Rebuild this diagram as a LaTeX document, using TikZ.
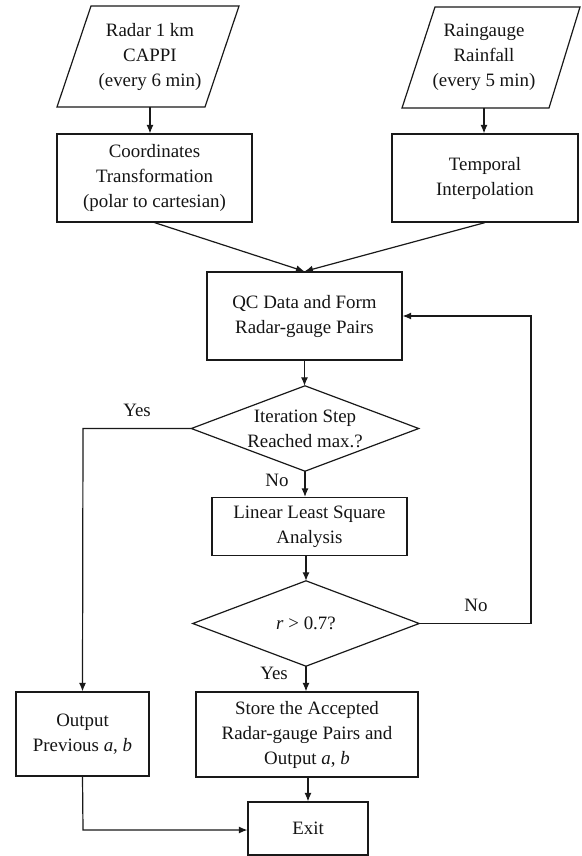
\documentclass[tikz,border=0pt]{standalone}
\usepackage{fontspec}
\setmainfont{Liberation Serif}
\usetikzlibrary{arrows.meta}
\begin{document}
\begin{tikzpicture}[x=1pt,y=-1pt,
  every node/.style={font=\fontsize{18.9}{25}\selectfont, align=center, inner sep=0pt, text=black!92},
  box/.style={draw=black!90, line width=1.2pt, minimum width=#1},
  hidden/.style={draw=none},
  lbl/.style={draw=none},
  conn/.style={draw=black!90, line width=1.2pt, -{Latex[length=8.5pt,width=7pt]}},
  shapeline/.style={draw=black!90, line width=1.2pt, line join=miter}]
\useasboundingbox (0,0) rectangle (581,856);

% input parallelograms
\node[hidden, minimum width=100pt, minimum height=101pt] (p1) at (150,56.5) {Radar 1 km\\CAPPI\\(every 6 min)};
\draw[shapeline] (91,6) -- (239,6) -- (205,107) -- (57,107) -- cycle;
\node[hidden, minimum width=100pt, minimum height=101pt] (p2) at (484,57.5) {Raingauge\\Rainfall\\(every 5 min)};
\draw[shapeline] (435,7) -- (580,7) -- (549,108) -- (402,108) -- cycle;

% process boxes
\node[box=195pt, minimum height=88pt] (b1) at (154.5,178) {Coordinates\\Transformation\\(polar to cartesian)};
\node[box=186pt, minimum height=88pt] (b2) at (485,178) {Temporal\\Interpolation};
\node[box=195pt, minimum height=88pt] (qc) at (304.5,316) {QC Data and Form\\Radar-gauge Pairs};

% decision 1
\node[hidden, minimum width=227pt, minimum height=85pt] (d1) at (305,428.5) {Iteration Step\\Reached max.?};
\draw[shapeline] (d1.north) -- (d1.east) -- (d1.south) -- (d1.west) -- cycle;

\node[box=195pt, minimum height=58pt] (lls) at (309.5,526.5) {Linear Least Square\\Analysis};

% decision 2
\node[hidden, minimum width=226pt, minimum height=85pt] (d2) at (306,623.5) {\textit{r} > 0.7?};
\draw[shapeline] (d2.north) -- (d2.east) -- (d2.south) -- (d2.west) -- cycle;

\node[box=222pt, minimum height=85pt] (store) at (307,734.5) {Store the Accepted\\Radar-gauge Pairs and\\Output \textit{a}, \textit{b}};
\node[box=133pt, minimum height=84pt] (out) at (82.5,734) {Output\\Previous \textit{a}, \textit{b}};
\node[box=120pt, minimum height=53pt] (exit) at (308,828.5) {Exit};

% labels
\node[lbl] (yes1) at (137,410) {Yes};
\node[lbl] (no1) at (277,480) {No};
\node[lbl] (no2) at (476,605) {No};
\node[lbl] (yes2) at (274,673) {Yes};

% helper coordinates
\coordinate (lcorner) at (83,428.5);
\coordinate (bcorner) at (83,830);
\coordinate (rbot) at (531,623.5);
\coordinate (rtop) at (531,316);

% connectors
\draw[conn] (p1.south) -- (p1.south |- b1.north);
\draw[conn] (p2.south) -- (p2.south |- b2.north);
\draw[conn] (b1.south) -- (qc.north);
\draw[conn] (b2.south) -- (qc.north);
\draw[conn] (qc.south) -- (qc.south |- d1.north);
\draw[conn] (d1.south) -- (d1.south |- lls.north);
\draw[conn] (d2.north |- lls.south) -- (d2.north);
\draw[conn] (d2.south) -- (d2.south |- store.north);
\draw[conn] (exit.north |- store.south) -- (exit.north);
\draw[conn] (d1.west) -- (lcorner) -- (out.north);
\draw[conn] (out.south) -- (bcorner) -- (bcorner -| exit.west);
\draw[conn] (d2.east) -- (rbot) -- (rtop) -- (qc.east);
\end{tikzpicture}
\end{document}
